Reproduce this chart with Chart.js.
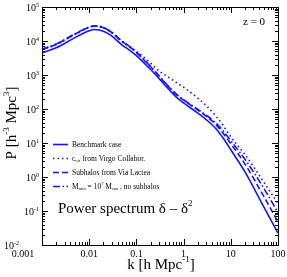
<!DOCTYPE html>
<html>
<head>
<meta charset="utf-8">
<script src="https://cdn.jsdelivr.net/npm/chart.js@4"></script>
<style>
  html, body { margin: 0; padding: 0; background: #fff; }
  #wrap { width: 287px; height: 277px; position: relative; }
</style>
</head>
<body>
<div id="wrap"><canvas id="psChart" width="287" height="277"></canvas></div>
<script>
// wavenumbers k [h/Mpc]
const kValues = [0.001, 0.002, 0.005, 0.01, 0.013, 0.02, 0.03, 0.05, 0.07, 0.1, 0.2, 0.3, 0.5, 0.7, 1, 2, 3, 5, 7, 10, 20, 50, 100];

// P(k)
const benchmark  = [4470, 6310, 12590, 19950, 21880, 19500, 14130, 7590, 5500, 3715, 1445, 794, 363, 224, 151, 75.9, 49.0, 25.1, 13.5, 6.31, 1.41, 0.132, 0.0224];
const virgo      = [5620, 7940, 15850, 25120, 27540, 24550, 17780, 9550, 6920, 5010, 2240, 1320, 832, 603, 437, 209, 126, 58.9, 31.6, 15.1, 4.57, 0.708, 0.166];
const viaLactea  = [5620, 7940, 15850, 25120, 27540, 24550, 17780, 9550, 6920, 4570, 1740, 933, 427, 269, 182, 93.3, 61.7, 33.1, 18.6, 9.55, 2.40, 0.269, 0.0479];
const noSubhalos = [5750, 8130, 16220, 25700, 28180, 25120, 18200, 9770, 7080, 4680, 1780, 955, 437, 275, 186, 97.7, 66.1, 37.2, 21.9, 11.7, 3.31, 0.468, 0.0891];

const xTickLabels = ['0.001', '0.01', '0.1', '1', '10', '100'];
const yTickExps = ['-2', '-1', '0', '1', '2', '3', '4', '5'];

const blue = 'rgb(20, 20, 255)';
const serif = '"Liberation Serif", "DejaVu Serif", serif';

function toPoints(arr) {
  return kValues.map((k, i) => ({ x: k, y: arr[i] }));
}

// draws text pieces with raised / lowered small parts, returns end x
function drawRich(ctx, parts, x, y, size) {
  parts.forEach(p => {
    let s = size, dy = 0;
    if (p.sup) { s = size * 0.6; dy = -size * 0.45; }
    if (p.sub) { s = size * 0.6; dy = size * 0.2; }
    ctx.font = s + 'px ' + serif;
    ctx.fillText(p.t, x, y + dy);
    x += ctx.measureText(p.t).width;
  });
  return x;
}
function richWidth(ctx, parts, size) {
  let w = 0;
  parts.forEach(p => {
    const s = (p.sup || p.sub) ? size * 0.6 : size;
    ctx.font = s + 'px ' + serif;
    w += ctx.measureText(p.t).width;
  });
  return w;
}

const frameAndText = {
  id: 'frameAndText',
  afterDraw(chart) {
    const ctx = chart.ctx;
    const xs = chart.scales.x, ys = chart.scales.y;
    const a = chart.chartArea;
    ctx.save();
    ctx.strokeStyle = '#000';
    ctx.fillStyle = '#000';
    ctx.lineWidth = 1;
    ctx.strokeRect(Math.round(a.left) + 0.5, Math.round(a.top) + 0.5,
                   Math.round(a.right - a.left), Math.round(a.bottom - a.top));

    // ticks on all four sides, pointing in
    ctx.beginPath();
    for (let e = -3; e <= 2; e++) {
      for (let m = 1; m <= 9; m++) {
        const v = m * Math.pow(10, e);
        if (v > 100.0001) break;
        const px = Math.round(xs.getPixelForValue(v)) + 0.5;
        const len = m === 1 ? 6 : 3;
        ctx.moveTo(px, a.bottom); ctx.lineTo(px, a.bottom - len);
        ctx.moveTo(px, a.top); ctx.lineTo(px, a.top + len);
      }
    }
    const lastX = Math.round(xs.getPixelForValue(100)) + 0.5;
    ctx.moveTo(lastX, a.bottom); ctx.lineTo(lastX, a.bottom - 6);
    for (let e = -2; e <= 5; e++) {
      for (let m = 1; m <= 9; m++) {
        const v = m * Math.pow(10, e);
        if (v > 100001) break;
        const py = Math.round(ys.getPixelForValue(v)) + 0.5;
        const len = m === 1 ? 6 : 3;
        ctx.moveTo(a.left, py); ctx.lineTo(a.left + len, py);
        ctx.moveTo(a.right, py); ctx.lineTo(a.right - len, py);
      }
    }
    ctx.stroke();

    // x tick labels
    ctx.textBaseline = 'alphabetic';
    ctx.font = '10px ' + serif;
    xTickLabels.forEach((lab, i) => {
      let px = xs.getPixelForValue(Math.pow(10, i - 3));
      if (i === 0) px -= 19;
      const w = ctx.measureText(lab).width;
      ctx.fillText(lab, px - w / 2, a.bottom + 12);
    });

    // y tick labels 10^n
    yTickExps.forEach((ex, i) => {
      const py = ys.getPixelForValue(Math.pow(10, i - 2));
      const parts = [{ t: '10' }, { t: ex, sup: true }];
      const w = richWidth(ctx, parts, 10);
      let right = a.left - 3;
      if (i === 0) right -= 20;
      drawRich(ctx, parts, right - w, py + 4, 10);
    });

    // axis titles
    const xt = [{ t: 'k [h Mpc' }, { t: '-1', sup: true }, { t: ']' }];
    const xw = richWidth(ctx, xt, 15);
    drawRich(ctx, xt, 161 - xw / 2, 269, 15);

    ctx.save();
    ctx.translate(16, 123);
    ctx.rotate(-Math.PI / 2);
    const yt = [{ t: 'P [h' }, { t: '-3', sup: true }, { t: ' Mpc' }, { t: '3', sup: true }, { t: ']' }];
    const yw = richWidth(ctx, yt, 15);
    drawRich(ctx, yt, -yw / 2, 0, 15);
    ctx.restore();

    // labels inside the frame
    ctx.font = '11px ' + serif;
    ctx.fillText('z = 0', 243, 25);
    drawRich(ctx, [{ t: 'Power spectrum \u03b4 \u2013 \u03b4' }, { t: '2', sup: true }], 58, 213, 15);

    // legend
    const rows = [
      [{ t: 'Benchmark case' }],
      [{ t: 'c' }, { t: 'vir', sub: true }, { t: ' from Virgo Collabor.' }],
      [{ t: 'Subhalos from Via Lactea' }],
      [{ t: 'M' }, { t: 'min', sub: true }, { t: ' = 10' }, { t: '7', sup: true }, { t: ' M' }, { t: 'sun', sub: true }, { t: ' , no subhalos' }]
    ];
    const rowY = [144, 158, 172, 186];
    chart.data.datasets.forEach((ds, i) => {
      ctx.save();
      ctx.strokeStyle = ds.borderColor;
      ctx.lineWidth = ds.borderWidth;
      ctx.setLineDash(ds.borderDash || []);
      ctx.beginPath();
      ctx.moveTo(53, rowY[i] + 0.5);
      ctx.lineTo(68, rowY[i] + 0.5);
      ctx.stroke();
      ctx.restore();
      drawRich(ctx, rows[i], 72, rowY[i] + 2.5, 7.5);
    });
    ctx.restore();
  }
};

const ctx = document.getElementById('psChart').getContext('2d');
const psChart = new Chart(ctx, {
  type: 'line',
  data: {
    datasets: [
      { label: 'Benchmark case', data: toPoints(benchmark), borderColor: blue, borderWidth: 1.6, borderDash: [] },
      { label: 'c_vir from Virgo Collabor.', data: toPoints(virgo), borderColor: blue, borderWidth: 1.6, borderDash: [1.5, 3] },
      { label: 'Subhalos from Via Lactea', data: toPoints(viaLactea), borderColor: blue, borderWidth: 1.6, borderDash: [6, 3] },
      { label: 'M_min = 10^7 M_sun, no subhalos', data: toPoints(noSubhalos), borderColor: blue, borderWidth: 1.6, borderDash: [7, 2.5, 1.5, 2.5] }
    ]
  },
  options: {
    responsive: false,
    animation: false,
    cubicInterpolationMode: 'monotone',
    pointRadius: 0,
    layout: { padding: { left: 42, right: 9, top: 7, bottom: 32 } },
    scales: {
      x: { type: 'logarithmic', min: 0.001, max: 100, display: false },
      y: { type: 'logarithmic', min: 0.01, max: 100000, display: false }
    },
    plugins: {
      legend: { display: false },
      tooltip: { enabled: false }
    }
  },
  plugins: [frameAndText]
});
</script>
</body>
</html>
